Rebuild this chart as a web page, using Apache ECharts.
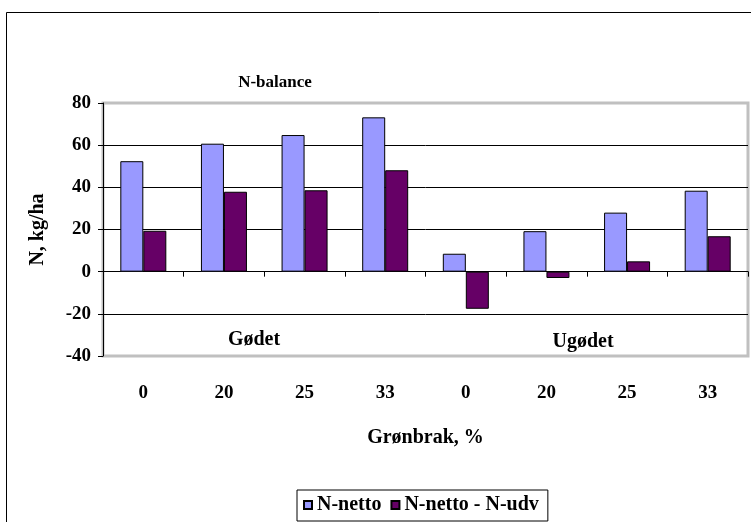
<!DOCTYPE html>
<html>
<head>
<meta charset="utf-8">
<script src="https://cdn.jsdelivr.net/npm/echarts@6/dist/echarts.min.js"></script>
<style>
  html, body { margin: 0; padding: 0; background: #fff; }
  #chart { width: 751px; height: 522px; }
</style>
</head>
<body>
<div id="chart"></div>
<script>
// Grønbrak share (%) for the fertilised and unfertilised groups
var categories = ['0', '20', '25', '33', '0', '20', '25', '33'];
// N-balance, kg/ha
var nNetto = [52.4, 60.7, 64.8, 73.2, 8.5, 19.2, 28.0, 38.4];
var nNettoMinusUdv = [19.4, 37.9, 38.6, 48.1, -17.6, -3.0, 4.9, 16.8];
var yTicks = { min: -40, max: 80, interval: 20 };

var FONT = 'Liberation Serif, Times New Roman, serif';
var chart = echarts.init(document.getElementById('chart'), null, { renderer: 'canvas' });

chart.setOption({
  animation: false,
  backgroundColor: '#ffffff',
  title: {
    text: 'N-balance',
    left: 270,
    top: 69,
    textAlign: 'center',
    textStyle: { fontFamily: FONT, fontWeight: 'bold', fontSize: 17, color: '#000' }
  },
  legend: {
    left: 297,
    top: 490,
    padding: [5, 9, 6, 6],
    borderColor: '#000',
    borderWidth: 1,
    itemWidth: 8,
    itemHeight: 8,
    itemGap: 9,
    icon: 'rect',
    textStyle: { fontFamily: FONT, fontWeight: 'bold', fontSize: 20, color: '#000' },
    data: ['N-netto', 'N-netto - N-udv']
  },
  grid: {
    left: 103,
    right: 3,
    top: 103,
    bottom: 166,
    show: true,
    borderColor: '#c0c0c0',
    borderWidth: 3,
    backgroundColor: '#ffffff'
  },
  xAxis: [
    {
      type: 'category',
      data: categories,
      axisLine: { onZero: true, lineStyle: { color: '#000', width: 1 } },
      axisTick: { show: true, inside: false, length: 5, lineStyle: { color: '#000' } },
      axisLabel: { show: false },
      splitLine: { show: false }
    },
    {
      type: 'category',
      data: categories,
      position: 'bottom',
      axisLine: { show: false },
      axisTick: { show: false },
      axisLabel: { margin: 28, fontFamily: FONT, fontWeight: 'bold', fontSize: 19, color: '#000' },
      name: 'Grønbrak, %',
      nameLocation: 'middle',
      nameGap: 72,
      nameTextStyle: { fontFamily: FONT, fontWeight: 'bold', fontSize: 20, color: '#000' }
    }
  ],
  yAxis: {
    type: 'value',
    min: yTicks.min,
    max: yTicks.max,
    interval: yTicks.interval,
    axisLine: { show: true, lineStyle: { color: '#000', width: 1 } },
    axisTick: { show: true, inside: false, length: 5, lineStyle: { color: '#000' } },
    axisLabel: { margin: 12, fontFamily: FONT, fontWeight: 'bold', fontSize: 19, color: '#000' },
    splitLine: { show: true, showMinLine: false, showMaxLine: false, lineStyle: { color: '#000', width: 1 } },
    name: 'N, kg/ha',
    nameLocation: 'middle',
    nameGap: 55,
    nameRotate: 90,
    nameTextStyle: { fontFamily: FONT, fontWeight: 'bold', fontSize: 20, color: '#000' }
  },
  series: [
    {
      name: 'N-netto',
      type: 'bar',
      xAxisIndex: 0,
      data: nNetto,
      barWidth: 23,
      barGap: '0%',
      itemStyle: { color: '#9999ff', borderColor: '#000', borderWidth: 1 }
    },
    {
      name: 'N-netto - N-udv',
      type: 'bar',
      xAxisIndex: 0,
      data: nNettoMinusUdv,
      barWidth: 23,
      barGap: '0%',
      itemStyle: { color: '#660066', borderColor: '#000', borderWidth: 1 }
    }
  ],
  graphic: [
    {
      type: 'rect',
      silent: true,
      z: -10,
      shape: { x: 6.5, y: 12.5, width: 800, height: 600 },
      style: { fill: null, stroke: '#000', lineWidth: 1 }
    },
    {
      type: 'text',
      x: 254,
      y: 340,
      style: { text: 'Gødet', textAlign: 'center', textVerticalAlign: 'middle', font: 'bold 20px ' + FONT, fill: '#000' }
    },
    {
      type: 'text',
      x: 583,
      y: 342,
      style: { text: 'Ugødet', textAlign: 'center', textVerticalAlign: 'middle', font: 'bold 20px ' + FONT, fill: '#000' }
    }
  ]
});
</script>
</body>
</html>
